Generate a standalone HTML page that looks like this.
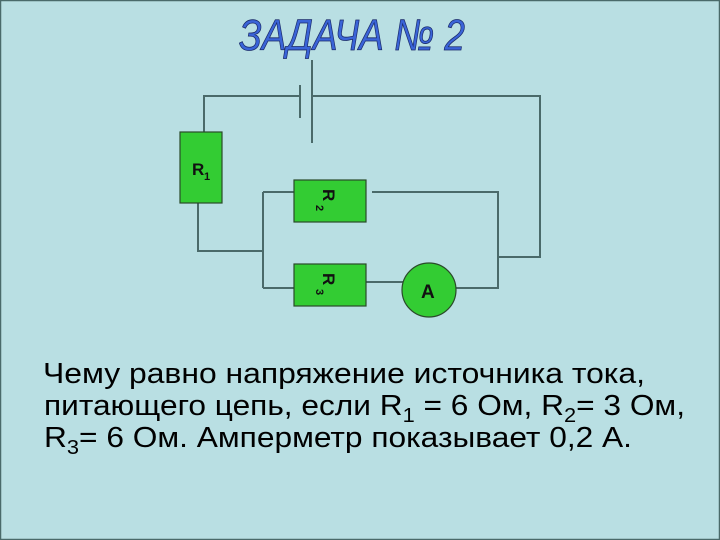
<!DOCTYPE html>
<html><head><meta charset="utf-8"><style>
html,body{margin:0;padding:0;background:#b9dfe3;}
svg{display:block}
</style></head><body>
<svg width="720" height="540" viewBox="0 0 720 540" xmlns="http://www.w3.org/2000/svg">
<rect x="0.5" y="0.5" width="719" height="539" fill="#b9dfe3" stroke="#4a6a6a" stroke-width="1.5"/>
<text x="352" y="50" text-anchor="middle" font-family="Liberation Sans, sans-serif" font-size="44" font-style="italic" fill="#3a64d8" stroke="#1a2a6a" stroke-width="0.8" textLength="226" lengthAdjust="spacingAndGlyphs">ЗАДАЧА № 2</text>
<g stroke="#4a6a6a" stroke-width="2" fill="none">
<line x1="312" y1="60" x2="312" y2="143"/>
<line x1="300" y1="85" x2="300" y2="118"/>
<polyline points="300,96 204,96 204,132"/>
<polyline points="313,96 540,96 540,257 498,257"/>
<polyline points="198,203 198,251 263,251"/>
<line x1="263" y1="192" x2="263" y2="288"/>
<polyline points="294,192 263,192"/>
<polyline points="263,288 294,288"/>
<polyline points="372,192 498,192 498,288 456,288"/>
<line x1="366" y1="282" x2="403" y2="282"/>
</g>
<g stroke="#2a4a2a" stroke-width="1.2" fill="#33cc33">
<rect x="180" y="132" width="42" height="71"/>
<rect x="294" y="180" width="72" height="42"/>
<rect x="294" y="264" width="72" height="42"/>
<circle cx="429" cy="290" r="27"/>
</g>
<g font-family="Liberation Sans, sans-serif" font-weight="bold" fill="#111">
<text x="192" y="175" font-size="17">R</text><text x="204" y="180" font-size="11">1</text>
<text x="421" y="298" font-size="19">A</text>
<g transform="translate(323,189) rotate(90)"><text font-size="17">R</text></g>
<g transform="translate(316,205) rotate(90)"><text font-size="11">2</text></g>
<g transform="translate(323,273) rotate(90)"><text font-size="17">R</text></g>
<g transform="translate(316,289) rotate(90)"><text font-size="11">3</text></g>
</g>
<g font-family="Liberation Sans, sans-serif" font-size="29" fill="#000">
<text x="43" y="383" textLength="602" lengthAdjust="spacingAndGlyphs">Чему равно напряжение источника тока,</text>
<text x="44" y="415" textLength="641" lengthAdjust="spacingAndGlyphs">питающего цепь, если R<tspan font-size="20" dy="7">1</tspan><tspan dy="-7"> = 6 Ом, R</tspan><tspan font-size="20" dy="7">2</tspan><tspan dy="-7">= 3 Ом,</tspan></text>
<text x="44" y="447" textLength="588" lengthAdjust="spacingAndGlyphs">R<tspan font-size="20" dy="7">3</tspan><tspan dy="-7">= 6 Ом. Амперметр показывает 0,2 А.</tspan></text>
</g>
</svg>
</body></html>
